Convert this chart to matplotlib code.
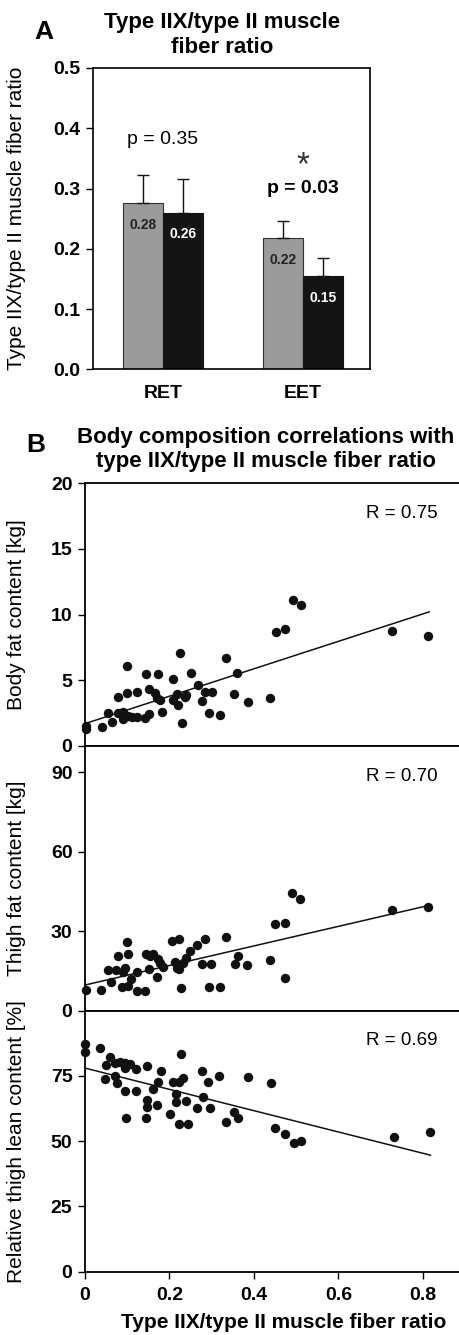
import numpy as np
import matplotlib
matplotlib.use("Agg")
import matplotlib.pyplot as plt

plt.rcParams["font.family"] = ["Liberation Sans", "DejaVu Sans"]

# ── Panel A: bar chart ────────────────────────────────────────────────
groups      = ["RET", "EET"]
gray_means  = [0.276, 0.218]
gray_err    = [0.047, 0.028]
black_means = [0.260, 0.155]
black_err   = [0.056, 0.030]
gray_labels  = ["0.28", "0.22"]
black_labels = ["0.26", "0.15"]

# ── Panel B: scatter data ──────────────────────────────────────────────
fat_x = [0.002, 0.002, 0.040, 0.055, 0.065, 0.077, 0.077, 0.091, 0.091, 0.100,
         0.100, 0.103, 0.112, 0.124, 0.124, 0.142, 0.144, 0.151, 0.152, 0.166,
         0.173, 0.171, 0.178, 0.183, 0.208, 0.209, 0.217, 0.221, 0.225, 0.229,
         0.237, 0.240, 0.250, 0.267, 0.278, 0.285, 0.300, 0.294, 0.319, 0.333,
         0.354, 0.361, 0.387, 0.438, 0.452, 0.473, 0.493, 0.511, 0.728, 0.813]
fat_y = [1.52, 1.30, 1.42, 2.48, 1.85, 3.75, 2.48, 2.60, 2.05, 6.10,
         4.00, 2.28, 2.18, 4.08, 2.23, 2.15, 5.45, 4.30, 2.40, 4.06,
         5.50, 3.62, 3.50, 2.60, 5.07, 3.50, 3.95, 3.12, 7.10, 1.72,
         3.75, 3.90, 5.53, 4.64, 3.42, 4.08, 4.08, 2.50, 2.38, 6.67,
         3.95, 5.53, 3.32, 3.62, 8.67, 8.87, 11.1, 10.7, 8.77, 8.37]

thigh_fat_x = [0.002, 0.037, 0.054, 0.062, 0.073, 0.077, 0.087, 0.091, 0.095, 0.099,
               0.103, 0.103, 0.108, 0.122, 0.124, 0.142, 0.144, 0.151, 0.154, 0.162,
               0.170, 0.172, 0.178, 0.185, 0.205, 0.223, 0.213, 0.218, 0.223, 0.227,
               0.233, 0.239, 0.248, 0.266, 0.277, 0.285, 0.294, 0.298, 0.320, 0.334,
               0.355, 0.363, 0.384, 0.438, 0.451, 0.473, 0.473, 0.491, 0.510, 0.728,
               0.813]
thigh_fat_y = [7.8, 7.8, 15.4, 10.7, 15.4, 20.8, 9.1, 14.8, 16.3, 25.9,
               21.3, 9.5, 12.0, 7.5, 14.8, 7.5, 21.3, 15.7, 20.8, 21.3,
               12.9, 19.4, 17.9, 16.4, 26.4, 27.0, 18.5, 16.3, 15.7, 8.7,
               17.9, 19.8, 22.6, 24.7, 17.6, 27.0, 9.1, 17.6, 9.1, 28.0,
               17.6, 20.8, 17.2, 19.2, 32.7, 33.3, 12.5, 44.4, 42.1, 38.1,
               39.3]

lean_x = [0.000, 0.000, 0.036, 0.050, 0.059, 0.047, 0.071, 0.071, 0.075, 0.083,
          0.095, 0.095, 0.095, 0.097, 0.107, 0.121, 0.121, 0.144, 0.148, 0.148,
          0.148, 0.160, 0.170, 0.172, 0.179, 0.201, 0.209, 0.215, 0.215, 0.223,
          0.227, 0.233, 0.223, 0.239, 0.245, 0.265, 0.276, 0.280, 0.292, 0.296,
          0.318, 0.334, 0.354, 0.362, 0.385, 0.440, 0.451, 0.474, 0.494, 0.511,
          0.731, 0.816]
lean_y = [87.2, 84.0, 85.6, 79.2, 82.2, 73.7, 79.9, 75.0, 72.2, 80.5,
          79.9, 77.9, 69.2, 58.7, 79.5, 77.6, 69.2, 58.7, 78.8, 65.8,
          62.9, 69.9, 63.8, 72.8, 76.7, 60.3, 72.8, 67.9, 65.1, 72.8,
          83.3, 74.1, 56.5, 65.5, 56.5, 62.6, 76.7, 67.1, 72.8, 62.6,
          75.0, 57.4, 61.0, 58.7, 74.4, 72.2, 55.1, 52.9, 49.1, 50.0,
          51.4, 53.6]

# regression lines as drawn in the figure (end points)
fat_fit_x,   fat_fit_y   = [0.0, 0.815], [1.7, 10.2]
thigh_fit_x, thigh_fit_y = [0.0, 0.815], [9.7, 39.8]
lean_fit_x,  lean_fit_y  = [0.0, 0.818], [78.0, 44.6]

r_labels = ["R = 0.75", "R = 0.70", "R = 0.69"]

W, H = 460, 1335
fig = plt.figure(figsize=(W / 100, H / 100), dpi=100)


def box(l, t, r, b):
    return [l / W, 1 - b / H, (r - l) / W, (b - t) / H]


TICK_FS = 14
LBL_FS  = 15
TITLE_FS = 16

# ── Panel A ────────────────────────────────────────────────────────────
axA = fig.add_axes(box(93, 68, 370, 369.3))
pos = np.arange(1, len(groups) + 1)
bw = 0.285
g_x = pos - bw / 2
k_x = pos + bw / 2
axA.bar(g_x, gray_means, bw, color="#9b9b9b", edgecolor="#333333", lw=0.8,
        yerr=[[0] * len(groups), gray_err], capsize=4.5,
        error_kw=dict(elinewidth=1.0, capthick=1.0, ecolor="#111111"))
axA.bar(k_x, black_means, bw, color="#141414", edgecolor="#141414", lw=0.8,
        yerr=[[0] * len(groups), black_err], capsize=4.5,
        error_kw=dict(elinewidth=1.0, capthick=1.0, ecolor="#111111"))
for x, v, s in zip(g_x, gray_means, gray_labels):
    axA.text(x, v - 0.036, s, ha="center", va="center", fontsize=10,
             fontweight="bold", color="#222222")
for x, v, s in zip(k_x, black_means, black_labels):
    axA.text(x, v - 0.036, s, ha="center", va="center", fontsize=10,
             fontweight="bold", color="white")

axA.text(pos[0], 0.382, "p = 0.35", ha="center", va="center", fontsize=14)
axA.text(pos[1], 0.300, "p = 0.03", ha="center", va="center", fontsize=14,
         fontweight="bold")
axA.text(pos[1], 0.338, "*", ha="center", va="center", fontsize=24,
         color="#333333", fontweight="light")

axA.set_xlim(0.5, 2.48)
axA.set_ylim(0, 0.5)
axA.set_yticks(np.arange(0, 0.51, 0.1))
axA.set_yticklabels([f"{v:.1f}" for v in np.arange(0, 0.51, 0.1)])
axA.set_xticks(pos)
axA.set_xticklabels(groups)
axA.tick_params(axis="x", length=0, pad=11, labelsize=TICK_FS)
axA.tick_params(axis="y", direction="out", length=5, width=1.0, pad=4,
                labelsize=TICK_FS)
for t in axA.get_xticklabels() + axA.get_yticklabels():
    t.set_fontweight("bold")
for sp in axA.spines.values():
    sp.set_linewidth(1.2)
axA.set_ylabel("Type IIX/type II muscle fiber ratio", fontsize=LBL_FS)
axA.yaxis.set_label_coords(-0.242, 0.5)

fig.text(44 / W, 1 - 32 / H, "A", fontsize=19, fontweight="bold",
         ha="center", va="center")
fig.text(222 / W, 1 - 35 / H, "Type IIX/type II muscle\nfiber ratio",
         fontsize=TITLE_FS, fontweight="bold", ha="center", va="center",
         linespacing=1.3)

# ── Panel B ────────────────────────────────────────────────────────────
ax1 = fig.add_axes(box(85, 483, 460, 746))
ax2 = fig.add_axes(box(85, 746, 460, 1010.7))
ax3 = fig.add_axes(box(85, 1010.7, 460, 1271.5))

panels = [
    (ax1, fat_x, fat_y, fat_fit_x, fat_fit_y, (0, 20), [0, 5, 10, 15, 20],
     "Body fat content [kg]"),
    (ax2, thigh_fat_x, thigh_fat_y, thigh_fit_x, thigh_fit_y, (0, 100),
     [0, 30, 60, 90], "Thigh fat content [kg]"),
    (ax3, lean_x, lean_y, lean_fit_x, lean_fit_y, (0, 100), [0, 25, 50, 75],
     "Relative thigh lean content [%]"),
]

for (ax, xs, ys, fx, fy, ylim, yt, lab), rl in zip(panels, r_labels):
    ax.scatter(xs, ys, s=46, color="#111111", zorder=3, clip_on=False,
               linewidths=0)
    ax.plot(fx, fy, color="#111111", lw=1.1, zorder=2)
    ax.set_xlim(0, 0.888)
    ax.set_ylim(*ylim)
    ax.set_yticks(yt)
    ax.tick_params(axis="y", direction="out", length=5, width=1.0, pad=4,
                   labelsize=TICK_FS)
    for t in ax.get_yticklabels():
        t.set_fontweight("bold")
    ax.spines["right"].set_visible(False)
    for sp in ("left", "top", "bottom"):
        ax.spines[sp].set_linewidth(1.3)
    ax.set_ylabel(lab, fontsize=LBL_FS)
    ax.yaxis.set_label_coords(-0.157, 0.5)
    ax.text(0.94, 0.885, rl, transform=ax.transAxes, ha="right", va="center",
            fontsize=13.5)

for ax in (ax1, ax2):
    ax.set_xticks([])

xt = [0, 0.2, 0.4, 0.6, 0.8]
ax3.set_xticks(xt)
ax3.set_xticklabels(["0", "0.2", "0.4", "0.6", "0.8"])
ax3.tick_params(axis="x", direction="out", length=5, width=1.0, pad=6,
                labelsize=TICK_FS)
for t in ax3.get_xticklabels():
    t.set_fontweight("bold")

fig.text(36 / W, 1 - 445 / H, "B", fontsize=19, fontweight="bold",
         ha="center", va="center")
fig.text(266 / W, 1 - 449.5 / H,
         "Body composition correlations with\ntype IIX/type II muscle fiber ratio",
         fontsize=TITLE_FS, fontweight="bold", ha="center", va="center",
         linespacing=1.2)
fig.text(284 / W, 1 - 1323 / H, "Type IIX/type II muscle fiber ratio",
         fontsize=15, fontweight="bold", ha="center", va="center")

fig.savefig("out.png", dpi=100)
